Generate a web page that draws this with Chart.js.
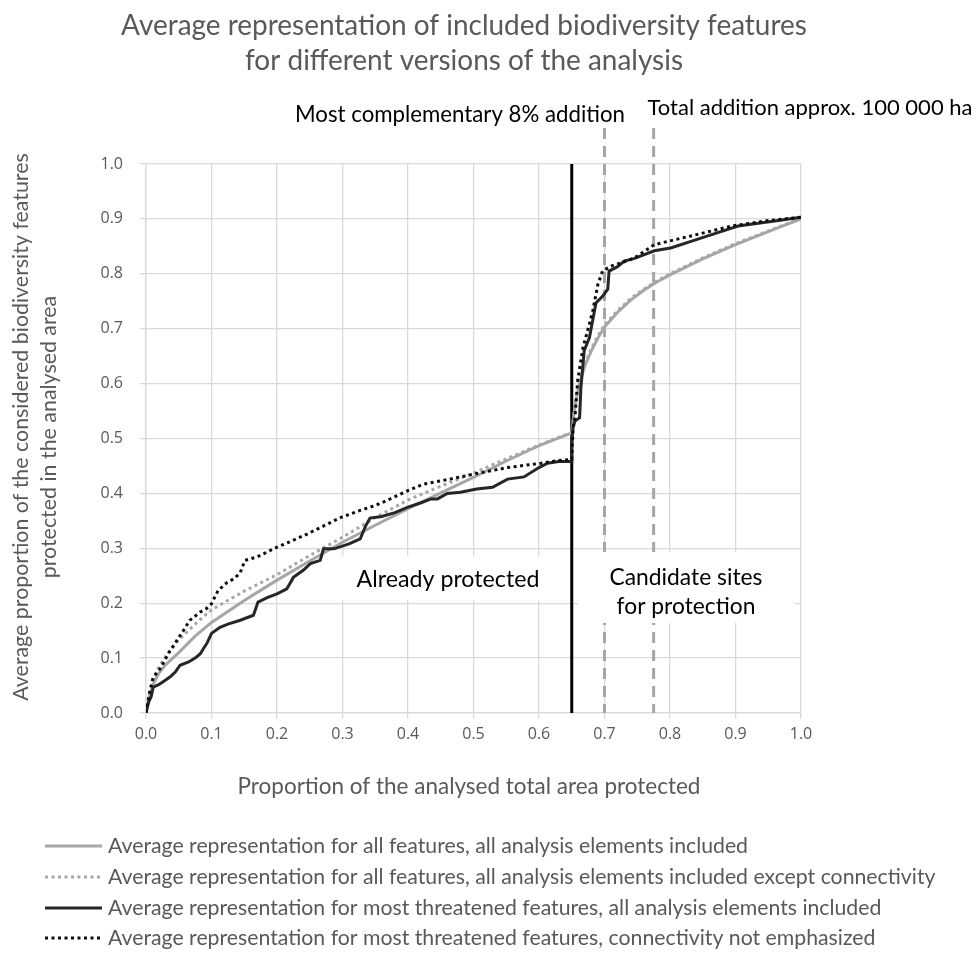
<!DOCTYPE html>
<html><head><meta charset="utf-8">
<script src="https://cdn.jsdelivr.net/npm/chart.js@4.4.1/dist/chart.umd.min.js"></script>
<style>html,body{margin:0;padding:0;background:#fff}canvas{display:block}</style>
</head><body>
<canvas id="c" width="976" height="954"></canvas>
<script>
const titleLines = ["Average representation of included biodiversity features", "for different versions of the analysis"];
const xAxisTitle = "Proportion of the analysed total area protected";
const yAxisTitleLines = ["Average proportion of the considered biodiversity features", "protected in the analysed area"];
const seriesNames = [
  "Average representation for all features, all analysis elements included",
  "Average representation for all features, all analysis elements included except connectivity",
  "Average representation for most threatened features, all analysis elements included",
  "Average representation for most threatened features, connectivity not emphasized"
];
const markerLabels = ["Most complementary 8% addition", "Total addition approx. 100 000 ha"];
const regionLabels = ["Already protected", "Candidate sites", "for protection"];
const protectedLimit = 0.65;
const additionLines = [0.70, 0.775];
const xTicks = [0,0.1,0.2,0.3,0.4,0.5,0.6,0.7,0.8,0.9,1.0];
const yTicks = [0,0.1,0.2,0.3,0.4,0.5,0.6,0.7,0.8,0.9,1.0];

// Series 1: all features, all elements (grey solid)
const allX = [0,0.005,0.01,0.02,0.03,0.05,0.075,0.1,0.15,0.2,0.25,0.3,0.35,0.4,0.45,0.5,0.55,0.6,0.65,0.652,0.655,0.66,0.665,0.67,0.68,0.69,0.7,0.72,0.74,0.76,0.78,0.8,0.85,0.9,0.95,1.0];
const allY = [0,0.03,0.05,0.073,0.088,0.11,0.14,0.165,0.205,0.242,0.277,0.311,0.342,0.372,0.401,0.429,0.459,0.487,0.51,0.53,0.56,0.59,0.613,0.632,0.66,0.683,0.703,0.73,0.752,0.77,0.785,0.798,0.827,0.853,0.877,0.9];
// Series 2: all features, except connectivity (grey dotted)
const allNoConnX = [0,0.005,0.01,0.02,0.03,0.05,0.075,0.1,0.15,0.2,0.25,0.3,0.35,0.4,0.45,0.5,0.55,0.6,0.65,0.652,0.655,0.66,0.665,0.67,0.68,0.69,0.7,0.72,0.74,0.76,0.78,0.8,0.85,0.9,0.95,1.0];
const allNoConnY = [0,0.035,0.06,0.085,0.103,0.133,0.162,0.188,0.222,0.252,0.287,0.32,0.356,0.388,0.413,0.437,0.463,0.488,0.511,0.532,0.563,0.594,0.617,0.636,0.664,0.687,0.707,0.733,0.755,0.772,0.787,0.8,0.829,0.855,0.878,0.901];
// Series 3: most threatened, all elements (black solid)
const thrX = [0,0.004,0.008,0.011,0.02,0.03,0.037,0.045,0.052,0.065,0.075,0.083,0.088,0.093,0.1,0.113,0.125,0.144,0.164,0.171,0.185,0.2,0.215,0.225,0.24,0.251,0.266,0.271,0.287,0.31,0.327,0.335,0.342,0.36,0.38,0.4,0.42,0.435,0.445,0.46,0.48,0.505,0.529,0.552,0.577,0.6,0.613,0.63,0.649,0.65,0.652,0.655,0.662,0.664,0.669,0.677,0.687,0.697,0.705,0.707,0.72,0.73,0.746,0.776,0.801,0.832,0.873,0.904,0.96,1.0];
const thrY = [0,0.02,0.03,0.047,0.052,0.06,0.066,0.075,0.087,0.093,0.1,0.108,0.118,0.127,0.145,0.156,0.162,0.169,0.178,0.202,0.21,0.217,0.226,0.247,0.26,0.272,0.278,0.299,0.299,0.308,0.317,0.34,0.355,0.358,0.365,0.375,0.383,0.39,0.39,0.4,0.402,0.408,0.411,0.426,0.43,0.447,0.455,0.458,0.458,0.49,0.52,0.532,0.538,0.593,0.66,0.684,0.747,0.759,0.772,0.805,0.813,0.823,0.828,0.842,0.847,0.859,0.875,0.887,0.896,0.903];
// Series 4: most threatened, connectivity not emphasized (black dotted)
const thrNoConnX = [0,0.005,0.011,0.02,0.026,0.035,0.047,0.057,0.067,0.083,0.092,0.1,0.11,0.124,0.135,0.144,0.151,0.169,0.2,0.22,0.246,0.27,0.297,0.327,0.35,0.373,0.4,0.424,0.46,0.5,0.552,0.603,0.63,0.65,0.652,0.655,0.659,0.667,0.675,0.682,0.69,0.697,0.71,0.73,0.746,0.776,0.8,0.832,0.86,0.894,0.95,1.0];
const thrNoConnY = [0,0.035,0.065,0.078,0.09,0.11,0.132,0.15,0.169,0.184,0.19,0.199,0.223,0.238,0.245,0.256,0.278,0.284,0.302,0.312,0.326,0.34,0.356,0.369,0.378,0.39,0.405,0.417,0.425,0.435,0.447,0.455,0.46,0.462,0.52,0.54,0.605,0.665,0.7,0.732,0.781,0.805,0.814,0.822,0.829,0.853,0.86,0.869,0.877,0.887,0.897,0.903];

const styles = [
  {color:'#a6a6a6', width:3, dash:[]},
  {color:'#a6a6a6', width:3, dash:[3,3.5]},
  {color:'#262626', width:3, dash:[]},
  {color:'#0d0d0d', width:3, dash:[3,3.5]}
];
const pairs = [[allX,allY],[allNoConnX,allNoConnY],[thrX,thrY],[thrNoConnX,thrNoConnY]];
const datasets = pairs.map((p,i)=>({
  label: seriesNames[i],
  data: p[0].map((x,j)=>({x:x,y:p[1][j]})),
  showLine:true, pointRadius:0, borderColor:styles[i].color, borderWidth:styles[i].width,
  borderDash:styles[i].dash, tension:0, fill:false, order: 4-i
}));

const TXT = '#595959';
function fitSize(ctx, text, family, width){ ctx.font = '100px ' + family; return 100*width/ctx.measureText(text).width; }
function drawText(ctx, text, cx, cy, size, family, color, rot){
  ctx.save(); ctx.translate(cx, cy); if (rot) ctx.rotate(rot);
  ctx.font = size.toFixed(2) + 'px ' + family; ctx.fillStyle = color;
  ctx.textAlign = 'center'; ctx.textBaseline = 'middle'; ctx.fillText(text, 0, 0); ctx.restore();
}

const overlay = {
  id:'overlay',
  beforeDatasetsDraw(chart){
    const ctx = chart.ctx, xs = chart.scales.x, a = chart.chartArea;
    ctx.save();
    ctx.strokeStyle = '#a6a6a6'; ctx.lineWidth = 3; ctx.setLineDash([11,7]);
    additionLines.forEach(v=>{ const px = xs.getPixelForValue(v); ctx.beginPath(); ctx.moveTo(px, 128); ctx.lineTo(px, a.bottom); ctx.stroke(); });
    ctx.setLineDash([]);
    ctx.fillStyle = '#fff';
    ctx.fillRect(332, 556, 228, 44);
    ctx.fillRect(578, 552, 217, 71);
    const f = 'Lato';
    const s1 = fitSize(ctx, regionLabels[0], f, 183);
    drawText(ctx, regionLabels[0], 448, 580, s1, f, '#000');
    const s2 = fitSize(ctx, regionLabels[1], f, 153);
    drawText(ctx, regionLabels[1], 686, 578, s2, f, '#000');
    drawText(ctx, regionLabels[2], 686, 607, s2, f, '#000');
    const p = xs.getPixelForValue(protectedLimit);
    ctx.strokeStyle = '#000'; ctx.lineWidth = 3;
    ctx.beginPath(); ctx.moveTo(p, a.top); ctx.lineTo(p, a.bottom); ctx.stroke();
    ctx.restore();
  },
  afterDraw(chart){
    const ctx = chart.ctx;
    const f = 'Lato';
    const ts = fitSize(ctx, titleLines[1], f, 438);
    drawText(ctx, titleLines[0], 464, 26, ts, f, TXT);
    drawText(ctx, titleLines[1], 464, 61, ts, f, TXT);
    const ms = fitSize(ctx, markerLabels[0], f, 330);
    drawText(ctx, markerLabels[0], 460, 115, ms, f, '#000');
    const ms2 = fitSize(ctx, markerLabels[1], f, 325);
    drawText(ctx, markerLabels[1], 810, 108, ms2, f, '#000');
    const xs = fitSize(ctx, xAxisTitle, f, 463);
    drawText(ctx, xAxisTitle, 469, 787, xs, f, TXT);
    const ys = fitSize(ctx, yAxisTitleLines[0], f, 548);
    drawText(ctx, yAxisTitleLines[0], 21, 427, ys, f, TXT, -Math.PI/2);
    drawText(ctx, yAxisTitleLines[1], 49, 437, ys, f, TXT, -Math.PI/2);
    const ls = fitSize(ctx, seriesNames[1], f, 828);
    const rows = [846, 877, 908, 938];
    rows.forEach((y,i)=>{
      ctx.save(); ctx.strokeStyle = styles[i].color; ctx.lineWidth = styles[i].width; ctx.setLineDash(styles[i].dash);
      ctx.beginPath(); ctx.moveTo(45, y); ctx.lineTo(102, y); ctx.stroke(); ctx.restore();
      ctx.save(); ctx.font = ls.toFixed(2)+'px '+f; ctx.fillStyle = TXT; ctx.textAlign='left'; ctx.textBaseline='middle';
      ctx.fillText(seriesNames[i], 108, y); ctx.restore();
    });
  }
};

new Chart(document.getElementById('c'), {
  type:'scatter',
  data:{datasets},
  options:{
    responsive:false, animation:false, devicePixelRatio:1,
    layout:{padding:{left:0, right:175, top:164, bottom:0}},
    plugins:{legend:{display:false}, title:{display:false}, tooltip:{enabled:false}},
    scales:{
      x:{type:'linear', min:0, max:1,
        afterBuildTicks(s){ s.ticks = xTicks.map(v=>({value:v})); },
        afterFit(s){ s.height = 241; },
        ticks:{callback:v=>v.toFixed(1), color:TXT, font:{family:'Open Sans', size:16}, padding:6, maxRotation:0},
        grid:{color:'#d9d9d9', lineWidth:1.3, tickLength:6, tickColor:'#d9d9d9'},
        border:{color:'#d9d9d9', width:1.3}},
      y:{type:'linear', min:0, max:1,
        afterBuildTicks(s){ s.ticks = yTicks.map(v=>({value:v})); },
        afterFit(s){ s.width = 146; },
        ticks:{callback:v=>v.toFixed(1), color:TXT, font:{family:'Open Sans', size:16}, padding:17},
        grid:{color:'#d9d9d9', lineWidth:1.3, tickLength:6, tickColor:'#d9d9d9'},
        border:{color:'#d9d9d9', width:1.3}}
    }
  },
  plugins:[overlay]
});
</script>
</body></html>
